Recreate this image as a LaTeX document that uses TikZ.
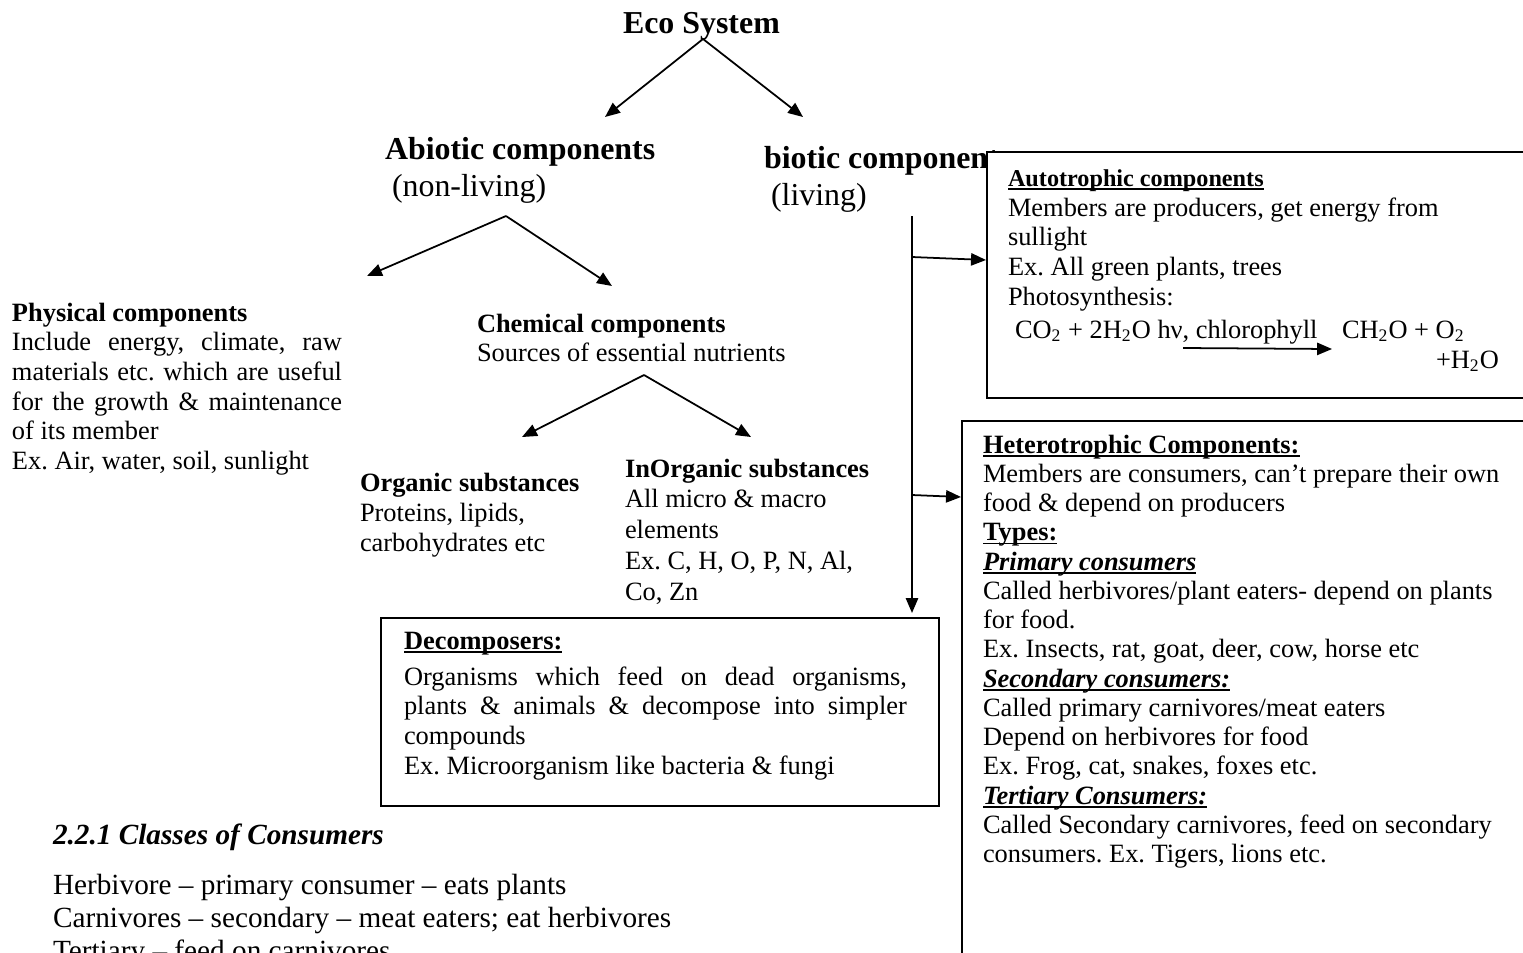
\documentclass[tikz,border=0pt]{standalone}
\usepackage{fontspec}
\setmainfont{Liberation Serif}
\usetikzlibrary{arrows.meta}
\newsavebox{\ulxbox}
\newcommand{\ulx}[1]{\leavevmode\sbox{\ulxbox}{#1}\rlap{\rule[-1.6pt]{\wd\ulxbox}{0.6pt}}\usebox{\ulxbox}}
\begin{document}
\frenchspacing
\begin{tikzpicture}[x=0.45455pt,y=-0.45455pt,
  txt/.style={anchor=base west,inner sep=0pt,outer sep=0pt,font=\fontsize{12}{13.6}\selectfont},
  head/.style={anchor=base west,inner sep=0pt,outer sep=0pt,font=\fontsize{14.5}{16}\selectfont\bfseries},
  sub/.style={anchor=base west,inner sep=0pt,outer sep=0pt,font=\fontsize{14.5}{16}\selectfont},
  con/.style={line width=0.8pt,-{Triangle[length=6.8pt,width=5.6pt]}},
  box/.style={draw,line width=0.9pt,fill=white,anchor=north west,inner sep=0pt,outer sep=0pt}]
\useasboundingbox (0,0) rectangle (1523,952);

% top level
\node[head] (eco) at (623,33) {Eco System};
\node[head] (abio) at (385,159) {Abiotic components};
\node[sub] (nonliv) at (392,196) {(non-living)};
\node[head] (bio) at (764,168) {biotic components};
\node[sub] (liv) at (771,205) {(living)};

\coordinate (ecoS) at (703,39);
\coordinate (abT) at (605,117);
\coordinate (biT) at (803,117);
\draw[con] (ecoS) -- (abT);
\draw[con] (ecoS) -- (biT);

% abiotic branch
\coordinate (abS) at (506,216);
\coordinate (phT) at (367,276);
\coordinate (chT) at (612,286);
\draw[con] (abS) -- (phT);
\draw[con] (abS) -- (chT);

\node[txt,font=\fontsize{12}{13.5}\selectfont] (phys) at (12,321) {\parbox[t]{150pt}{%
\textbf{Physical components}\\
\makebox[\linewidth][s]{Include energy, climate, raw}\\
\makebox[\linewidth][s]{materials etc. which are useful}\\
\makebox[\linewidth][s]{for the growth \& maintenance}\\
of its member\\
Ex. Air, water, soil, sunlight}};

\node[txt] (chem) at (477,332) {\parbox[t]{200pt}{%
\textbf{Chemical components}\\
Sources of essential nutrients}};

\coordinate (chS) at (644,375);
\coordinate (orT) at (522,437);
\coordinate (inT) at (751,437);
\draw[con] (chS) -- (orT);
\draw[con] (chS) -- (inT);

\node[txt,font=\fontsize{12}{13.8}\selectfont] (org) at (360,491) {\parbox[t]{150pt}{%
\textbf{Organic substances}\\
Proteins, lipids,\\
carbohydrates etc}};

\node[txt,font=\fontsize{12}{14}\selectfont] (inorg) at (625,477) {\parbox[t]{150pt}{%
\textbf{InOrganic substances}\\
All micro \& macro\\
elements\\
Ex. C, H, O, P, N, Al,\\
Co, Zn}};

% biotic branch
\coordinate (vtop) at (912,216);
\coordinate (vb1) at (912,257);
\coordinate (vb2) at (912,495);
\coordinate (vend) at (912,613);
\coordinate (auT) at (986,260);
\coordinate (heT) at (961,497);
\draw[con] (vtop) -- (vend);
\draw[con] (vb1) -- (auT);
\draw[con] (vb2) -- (heT);

% autotrophic box
\node[box,minimum width=253.6pt,minimum height=111.8pt] (autobox) at (987,152) {};
\node[txt,font=\fontsize{11}{13}\selectfont\bfseries] (autoh) at (1008,186) {\ulx{Autotrophic components}};
\node[txt] (autot) at (1008,216) {\parbox[t]{250pt}{%
Members are producers, get energy from\\
sullight\\
Ex. All green plants, trees\\
Photosynthesis:}};
\node[txt] (eqL) at (1015,338) {CO\textsubscript{2} + 2H\textsubscript{2}O hν, chlorophyll};
\node[txt] (eqR) at (1342,338) {CH\textsubscript{2}O + O\textsubscript{2}};
\node[txt] (eqH) at (1436,368) {+H\textsubscript{2}O};
\coordinate (psS) at (1183,348);
\coordinate (psT) at (1332,349);
\draw[con] (psS) -- (psT);

% heterotrophic box
\node[box,minimum width=265pt,minimum height=254.5pt] (hetbox) at (962,421) {};
\node[txt,font=\fontsize{12}{13.3}\selectfont] (hett) at (983,453) {\parbox[t]{300pt}{%
\ulx{\textbf{Heterotrophic Components:}}\\
Members are consumers, can’t prepare their own\\
food \& depend on producers\\
\ulx{\textbf{Types:}}\\
\ulx{\textbf{\textit{Primary consumers}}}\\
Called herbivores/plant eaters- depend on plants\\
for food.\\
Ex. Insects, rat, goat, deer, cow, horse etc\\
\ulx{\textbf{\textit{Secondary consumers:}}}\\
Called primary carnivores/meat eaters\\
Depend on herbivores for food\\
Ex. Frog, cat, snakes, foxes etc.\\
\ulx{\textbf{\textit{Tertiary Consumers:}}}\\
Called Secondary carnivores, feed on secondary\\
consumers. Ex. Tigers, lions etc.}};

% decomposers box
\node[box,minimum width=253.6pt,minimum height=85.5pt] (decbox) at (381,618) {};
\node[txt] (dech) at (404,649) {\ulx{\textbf{Decomposers:}}};
\node[txt,font=\fontsize{12}{13.5}\selectfont] (dect) at (404,685) {\parbox[t]{228.6pt}{%
\makebox[\linewidth][s]{Organisms which feed on dead organisms,}\\
\makebox[\linewidth][s]{plants \& animals \& decompose into simpler}\\
compounds\\
Ex. Microorganism like bacteria \& fungi}};

% bottom section
\node[txt,font=\fontsize{13.3}{15}\selectfont\bfseries\itshape] (sect) at (53,844) {2.2.1 Classes of Consumers};
\node[txt,font=\fontsize{13.3}{15.2}\selectfont] (cls) at (53,894) {\parbox[t]{300pt}{%
Herbivore – primary consumer – eats plants\\
Carnivores – secondary – meat eaters; eat herbivores\\
Tertiary – feed on carnivores}};
\end{tikzpicture}
\end{document}
